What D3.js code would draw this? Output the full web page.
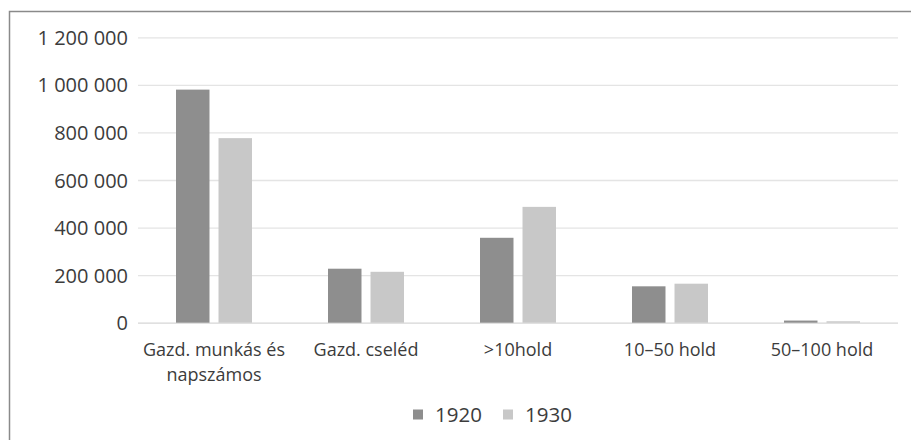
<!DOCTYPE html>
<html>
<head>
<meta charset="utf-8">
<script src="https://cdn.jsdelivr.net/npm/d3@7"></script>
<style>
	body { margin: 0; background: #fff; }
	svg { display: block; }
	svg text { font-family: "Open Sans", sans-serif; fill: #3c3c3c; }
</style>
</head>
<body>
<svg id="chart" width="911" height="440"></svg>
<script>
const categories = ["Gazd. munkás és napszámos", "Gazd. cseléd", ">10hold", "10\u201350 hold", "50\u2013100 hold"]
const years = ["1920", "1930"]
const values1920 = [980000, 227000, 357000, 153000, 9000]
const values1930 = [776000, 214000, 487000, 164000, 6000]
const yTicks = [0, 200000, 400000, 600000, 800000, 1000000, 1200000]

const colors = { "1920": "#8e8e8e", "1930": "#c8c8c8" }

const svg = d3.select("#chart")
const margin = { left: 138, right: 13, top: 37.3, bottom: 117.3 }
const width = 911, height = 440

// outer frame, only left and top edges show in the picture
svg.append("rect")
	.attr("x", 9.5).attr("y", 11.5)
	.attr("width", 920).attr("height", 450)
	.attr("fill", "none").attr("stroke", "#8a8a8a").attr("stroke-width", 1.5)

const x = d3.scaleBand()
	.domain(categories)
	.range([margin.left, width - margin.right])

const xInner = d3.scaleBand()
	.domain(years)
	.range([0, x.bandwidth()])
	.paddingInner(0.212)
	.paddingOuter(0.894)

const y = d3.scaleLinear()
	.domain([0, 1200000])
	.range([height - margin.bottom, margin.top])

// gridlines + y labels
svg.append("g")
	.attr("transform", `translate(${margin.left},0)`)
	.call(d3.axisLeft(y).tickValues(yTicks).tickSize(-(width - margin.left - margin.right)).tickPadding(10)
		.tickFormat(d => d3.format(",")(d).replace(/,/g, " ")))
	.attr("font-family", null).attr("font-size", null)
	.call(g => g.select(".domain").remove())
	.call(g => g.selectAll(".tick line").attr("stroke", "#e4e4e4").attr("stroke-width", 1.3))
	.call(g => g.selectAll(".tick").filter(d => d === 0).select("line").attr("stroke", "#d6d6d6"))
	.call(g => g.selectAll(".tick text").style("font-size", "20px").attr("dy", "0.35em"))

const series = years.map(yr => ({ year: yr, vals: yr === "1920" ? values1920 : values1930 }))

svg.append("g")
	.selectAll("g")
	.data(series)
	.join("g")
		.attr("fill", d => colors[d.year])
	.selectAll("rect")
	.data(d => d.vals.map((v, i) => ({ year: d.year, cat: categories[i], v })))
	.join("rect")
		.attr("x", d => x(d.cat) + xInner(d.year))
		.attr("width", xInner.bandwidth())
		.attr("y", d => y(d.v))
		.attr("height", d => y(0) - y(d.v))

// category labels, first one wraps to two lines
const xAxis = svg.append("g")
	.attr("transform", `translate(0,${y(0)})`)
	.call(d3.axisBottom(x).tickSize(0).tickPadding(27))
	.attr("font-family", null).attr("font-size", null)
	.call(g => g.select(".domain").remove())

xAxis.selectAll(".tick text")
	.style("font-size", "18px")
	.attr("dy", "0.35em")
	.each(function(d) {
		const t = d3.select(this)
		if (d === categories[0]) {
			const yy = +t.attr("y")
			t.text(null).attr("dy", null)
			t.append("tspan").attr("x", 0).attr("y", yy).attr("dy", "0.35em").text("Gazd. munkás és")
			t.append("tspan").attr("x", 0).attr("y", yy + 25.5).attr("dy", "0.35em").text("napszámos")
		}
	})

// legend
const legend = svg.append("g").attr("transform", "translate(413,414.5)")
const items = legend.selectAll("g")
	.data(years)
	.join("g")
		.attr("transform", (d, i) => `translate(${i * 90},0)`)
items.append("rect")
	.attr("x", 0).attr("y", -5).attr("width", 10).attr("height", 10)
	.attr("fill", d => colors[d])
items.append("text")
	.attr("x", 22).attr("y", 0).attr("dy", "0.36em")
	.style("font-size", "20.5px")
	.text(d => d)
</script>
</body>
</html>
